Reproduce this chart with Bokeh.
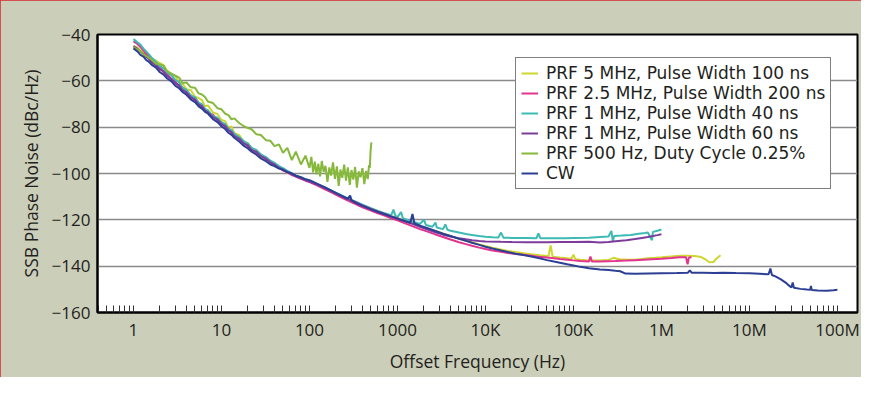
from bokeh.plotting import figure
from bokeh.models import Range1d, FixedTicker, CustomJSTickFormatter, Legend, LegendItem
from bokeh.embed import file_html
from bokeh.resources import INLINE

# ---------------- data (frequency Hz, SSB phase noise dBc/Hz) ----------------
SERIES_NAMES = [
    "PRF 5 MHz, Pulse Width 100 ns",
    "PRF 2.5 MHz, Pulse Width 200 ns",
    "PRF 1 MHz, Pulse Width 40 ns",
    "PRF 1 MHz, Pulse Width 60 ns",
    "PRF 500 Hz, Duty Cycle 0.25%",
    "CW",
]

PRF5M = [
    (1, -45), (1.1, -45.6), (1.2, -46.9), (1.3, -47.8), (1.4, -48.6), (1.5, -49.9), (1.6, -50.3), (1.8, -51.3),
    (2, -52.4), (2.2, -53.2), (2.4, -55.6), (2.7, -57.2), (3, -58.1), (3.3, -60.6), (3.6, -61.2), (4, -63.6),
    (4.5, -64.1), (5, -66.9), (5.5, -67.4), (6, -68.3), (6.5, -71), (7, -70.6), (8, -73.6), (9, -74.3),
    (10, -76.9), (11, -77.4), (12, -80.1), (13, -79.7), (14, -82.6), (16, -83.5), (18, -86.4), (20, -86.9),
    (22, -89.4), (25, -89.9), (28, -92.7), (32, -93.1), (36, -95.4), (40, -95.7), (45, -97.7), (50, -98.3),
    (56, -99.7), (63, -100.2), (70, -101.1), (80, -101.7), (90, -102.6), (100, -103),
    (120, -104.5), (150, -106.2), (180, -107.6), (220, -109.3), (270, -110.8), (330, -112.3), (400, -113.8),
    (500, -115.2), (600, -116.3), (700, -117.2), (850, -118.3), (1000, -119.2), (1200, -120.4), (1500, -121.6),
    (1800, -122.7), (2200, -123.8), (2700, -124.8), (3300, -125.9), (4000, -127), (5000, -128.2), (6000, -129),
    (7000, -129.7), (8500, -130.6), (10000, -131.3), (12000, -132), (15000, -132.8), (18000, -133.4),
    (22000, -133.9), (27000, -134.4), (33000, -134.8), (42000, -135.3), (52000, -135.7), (55000, -131),
    (58000, -135.9), (70000, -136.3), (95000, -136.8), (100000, -135), (105000, -137), (120000, -137.2),
    (150000, -137.5), (200000, -137.6), (250000, -137.3), (285000, -136.4), (330000, -137), (400000, -137.1),
    (500000, -137.2), (600000, -136.9), (700000, -136.6), (850000, -136.4), (1000000, -136.2),
    (1300000, -135.8), (1600000, -135.5), (2000000, -135.5), (2400000, -135.6), (2800000, -136),
    (3200000, -137.2), (3500000, -138.3), (3900000, -138.2), (4200000, -136.8), (4700000, -135.3),
]

PRF2M5 = [
    (1, -43), (1.1, -44), (1.2, -45.4), (1.3, -46.9), (1.4, -48.4), (1.5, -49.6), (1.6, -50.9), (1.8, -53.4),
    (2, -54.1), (2.2, -56.4), (2.4, -56.9), (2.7, -59.4), (3, -60.4), (3.3, -62.4), (3.6, -62.9), (4, -65.4),
    (4.5, -66.3), (5, -68.7), (5.5, -69.6), (6, -71.4), (6.5, -72.1), (7, -73.7), (8, -74.6), (9, -76.9),
    (10, -77.9), (11, -79.7), (12, -80.4), (13, -82.4), (14, -82.9), (16, -85.4), (18, -86.4), (20, -88.4),
    (22, -89.1), (25, -91.1), (28, -91.9), (32, -93.9), (36, -94.7), (40, -96.4), (45, -97.3), (50, -98.7),
    (56, -99.4), (63, -100.7), (70, -101.3), (80, -102.3), (90, -103.1), (100, -103.7),
    (120, -105), (150, -106.8), (180, -108.2), (220, -110), (270, -111.6), (330, -113.1), (400, -114.6),
    (500, -116), (600, -117.2), (700, -118.1), (850, -119.3), (1000, -120.2), (1200, -121.4), (1500, -122.8),
    (1800, -124), (2200, -125.1), (2700, -126.3), (3300, -127.4), (4000, -128.5), (5000, -129.7),
    (6000, -130.5), (7000, -131.2), (8500, -132), (10000, -132.6), (12000, -133.2), (15000, -133.8),
    (18000, -134.3), (22000, -134.7), (27000, -135.1), (33000, -135.5), (40000, -135.9), (50000, -136.3),
    (60000, -136.6), (70000, -136.9), (85000, -137.2), (100000, -137.5), (120000, -137.8), (150000, -138),
    (156000, -135.8), (162000, -138), (200000, -138), (300000, -137.8), (400000, -137.6), (500000, -137.4),
    (700000, -137.1), (1000000, -136.8), (1300000, -136.5), (1600000, -136.2), (1900000, -136.1),
    (1980000, -139.2), (2050000, -136.3), (2200000, -136.2),
]

PRF1M_40 = [
    (1, -42), (1.1, -43.3), (1.2, -44.4), (1.3, -46.1), (1.4, -47.4), (1.5, -48.6), (1.6, -49.9), (1.8, -51.9),
    (2, -53.7), (2.2, -54.6), (2.4, -56.4), (2.7, -57.6), (3, -59.7), (3.3, -60.6), (3.6, -62.9), (4, -63.9),
    (4.5, -66.4), (5, -67.1), (5.5, -69.4), (6, -70.1), (6.5, -72.2), (7, -72.7), (8, -75.2), (9, -75.9),
    (10, -77.9), (11, -78.6), (12, -80.7), (13, -81.3), (14, -82.9), (16, -84.4), (18, -86.1), (20, -87.1),
    (22, -88.9), (25, -89.9), (28, -91.7), (32, -92.9), (36, -94.5), (40, -95.4), (45, -96.8), (50, -97.7),
    (56, -98.9), (63, -99.9), (70, -100.8), (80, -101.7), (90, -102.5), (100, -103.1),
    (120, -104.5), (150, -106), (180, -107.5), (220, -109), (270, -110.6), (330, -112), (400, -113.5),
    (500, -115), (600, -116.2), (700, -117), (850, -118), (900, -115.6), (950, -118.3), (1000, -118.8),
    (1100, -116.6), (1150, -119.3), (1300, -120), (1500, -120.8), (1800, -121.8), (2000, -119.9),
    (2100, -122.2), (2500, -123), (2700, -121.2), (2800, -123.3), (3300, -124), (3500, -122), (3700, -124.3),
    (4000, -124.7), (5000, -125.5), (6000, -126.1), (7000, -126.5), (8500, -127), (10000, -127.3),
    (12000, -127.5), (14000, -127.6), (15000, -125.5), (16000, -127.7), (20000, -127.8), (30000, -127.8),
    (38000, -127.9), (40000, -125.8), (42000, -127.9), (60000, -128), (80000, -127.9), (100000, -127.8),
    (150000, -127.7), (200000, -127.4), (250000, -127.2), (270000, -124.8), (280000, -129.3),
    (290000, -127), (350000, -126.8), (450000, -126.5), (550000, -126), (650000, -125.7), (700000, -125.5),
    (780000, -128.8), (800000, -125.2), (900000, -124.7), (1000000, -124.2),
]

PRF1M_60 = [
    (1, -45), (1.1, -46.1), (1.2, -47.4), (1.3, -48.4), (1.4, -49.7), (1.5, -50.6), (1.6, -51.9), (1.8, -53.3),
    (2, -55.1), (2.2, -55.9), (2.4, -57.9), (2.7, -59.1), (3, -61.1), (3.3, -61.9), (3.6, -64.1), (4, -64.9),
    (4.5, -67.2), (5, -68), (5.5, -70.2), (6, -70.9), (6.5, -72.9), (7, -73.5), (8, -75.7), (9, -76.6),
    (10, -78.7), (11, -79.5), (12, -81.4), (13, -82.1), (14, -83.9), (16, -85.1), (18, -87.1), (20, -87.9),
    (22, -89.9), (25, -90.7), (28, -92.5), (32, -93.6), (36, -95.2), (40, -96.1), (45, -97.5), (50, -98.3),
    (56, -99.5), (63, -100.3), (70, -101.2), (80, -102.1), (90, -102.8), (100, -103.5),
    (120, -104.7), (150, -106.3), (180, -107.8), (220, -109.3), (270, -110.9), (330, -112.3), (400, -113.8),
    (500, -115.3), (600, -116.5), (700, -117.4), (850, -118.5), (1000, -119.4), (1200, -120.5),
    (1500, -121.8), (1800, -123), (2200, -124.2), (2700, -125.4), (3300, -126.4), (4000, -127.2),
    (5000, -127.9), (6000, -128.4), (7000, -128.8), (8500, -129.1), (10000, -129.3), (15000, -129.5),
    (20000, -129.6), (30000, -129.7), (50000, -129.7), (70000, -129.6), (100000, -129.6), (150000, -129.5),
    (200000, -129.8), (250000, -129.6), (300000, -129.2), (400000, -128.8), (500000, -128.3),
    (600000, -127.8), (700000, -127.4), (800000, -127), (900000, -126.6), (1000000, -126.2),
]

PRF500 = [
    (1, -45.5), (1.1, -46.4), (1.2, -47.3), (1.3, -48.7), (1.4, -49.3), (1.5, -50.1), (1.6, -50.8), (1.8, -52.6),
    (2, -52.9), (2.2, -53.5), (2.4, -55.8), (2.7, -56.9), (3, -57.8), (3.3, -58.6), (3.6, -60.9), (4, -60.7),
    (4.5, -62.8), (5, -63), (5.5, -65.4), (6, -65.9), (6.5, -67), (7, -68.9), (8, -69.6), (9, -71.8),
    (10, -72.3), (11, -74.2), (12, -74.8), (13, -76.6), (14, -76.2), (16, -78.3), (18, -79.6), (20, -80.4),
    (22, -80.9), (25, -83.1), (28, -83.4), (32, -85.6), (36, -85.9), (40, -88.2), (45, -87.4), (50, -91.1),
    (56, -88.9), (63, -94.2), (70, -90.6), (80, -96.1), (90, -92.3), (100, -97.6), (105, -92.8), (110, -99.5),
    (115, -94.9), (120, -100.4), (126, -95.8), (132, -101.2), (138, -94.6), (145, -99.3), (152, -96.7),
    (160, -103.6), (168, -97.4), (176, -100.9), (185, -95.2), (195, -102.3), (205, -96.9), (215, -105.4),
    (225, -98.3), (236, -101.9), (248, -96.2), (260, -103.1), (273, -97.4), (287, -104.9), (300, -98.5),
    (315, -102.6), (330, -97.2), (346, -106.1), (363, -99.1), (380, -101.6), (400, -97.7), (420, -104.6),
    (440, -98.9), (460, -102.4), (475, -96.4), (485, -97.6), (495, -90.2), (505, -86.6),
]

CW = [
    (1, -46), (1.1, -47.2), (1.2, -48.8), (1.3, -49.6), (1.4, -51.1), (1.5, -51.8), (1.6, -53), (1.8, -54.3),
    (2, -56.3), (2.2, -57.3), (2.4, -58.9), (2.7, -60.2), (3, -62.2), (3.3, -63.2), (3.6, -64.8), (4, -66),
    (4.5, -68.1), (5, -69.2), (5.5, -71), (6, -72), (6.5, -73.4), (7, -74.1), (8, -76.5), (9, -77.8),
    (10, -79.6), (11, -80.8), (12, -82.4), (13, -83.3), (14, -84.6), (16, -86.3), (18, -88.1), (20, -89.2),
    (22, -90.6), (25, -91.9), (28, -93.5), (32, -94.7), (36, -96.1), (40, -96.8), (45, -97.9), (50, -98.4),
    (56, -99.3), (63, -99.9), (70, -100.9), (80, -101.6), (90, -102.5), (100, -102.9),
    (120, -104.3), (150, -106), (180, -107.5), (220, -109.2), (270, -111), (290, -109.5), (300, -111.6),
    (330, -112.6), (400, -114), (500, -115.5), (600, -116.6), (700, -117.5), (850, -118.6), (1000, -119.5),
    (1200, -120.5), (1400, -121.3), (1480, -117.5), (1560, -121.6), (1800, -122.5), (2200, -123.6),
    (2700, -124.8), (3300, -126), (4000, -127), (5000, -128.2), (6000, -129.1), (7000, -129.9),
    (8500, -130.8), (10000, -131.6), (12000, -132.4), (15000, -133.2), (18000, -133.9), (22000, -134.6),
    (27000, -135.2), (33000, -135.8), (40000, -136.5), (50000, -137.4), (60000, -138), (70000, -138.5),
    (85000, -139.2), (100000, -139.7), (120000, -140.3), (150000, -140.9), (200000, -141.4),
    (250000, -141.7), (300000, -142), (340000, -142.2), (390000, -143.2), (500000, -143.3),
    (700000, -143.2), (1000000, -143.1), (1500000, -143), (2000000, -142.8), (2100000, -141.8),
    (2200000, -142.8), (3000000, -142.8), (4000000, -142.9), (5000000, -142.8), (7000000, -143),
    (10000000, -143.1), (13000000, -143.3), (16500000, -143.5), (17300000, -141), (18000000, -143.8),
    (20000000, -144.5), (23000000, -145.8), (26000000, -147.2), (28000000, -148.3), (30000000, -149.2),
    (31000000, -147), (32000000, -149.3), (38000000, -149.8), (45000000, -150.1), (49000000, -150.2),
    (50000000, -148.5), (51000000, -150.3), (60000000, -150.5), (75000000, -150.6), (90000000, -150.4),
    (100000000, -150.2),
]

SERIES_DATA = [PRF5M, PRF2M5, PRF1M_40, PRF1M_60, PRF500, CW]
SERIES_COLORS = ["#cfd62f", "#e2348f", "#3dbab4", "#7d3c9c", "#86b83c", "#2c3f94"]

X_TICKS = [1, 10, 100, 1000, 1e4, 1e5, 1e6, 1e7, 1e8]
X_TICK_LABELS = ["1", "10", "100", "1000", "10K", "100K", "1M", "10M", "100M"]
Y_TICKS = [-160, -140, -120, -100, -80, -60, -40]

FONT = "Open Sans"
LEGEND_FONT = "DejaVu Sans"
TEXT = "#231f20"

p = figure(
    width=861, height=377,
    x_axis_type="log",
    x_range=Range1d(0.39, 1.69e8), y_range=Range1d(-160, -40),
    output_backend="svg", toolbar_location=None,
    min_border_left=97, min_border_right=4, min_border_top=34, min_border_bottom=65,
    background_fill_color="white", border_fill_color="#cbceb9",
)
p.styles = {"outline": "2px solid #d9262e", "outline-offset": "-2px"}

p.outline_line_color = "black"
p.outline_line_width = 2
p.outline_line_alpha = 1

# grid
p.xgrid.visible = False
p.ygrid.ticker = FixedTicker(ticks=Y_TICKS[1:-1])
p.ygrid.grid_line_color = "#8a8a8a"
p.ygrid.grid_line_width = 1.5

# x axis
p.xaxis.ticker = FixedTicker(ticks=X_TICKS,
                             minor_ticks=[m * 10.0 ** d for d in range(-1, 9) for m in range(2, 10)])
p.xaxis.major_label_overrides = {t: l for t, l in zip(X_TICKS, X_TICK_LABELS)}
p.xaxis.major_tick_in = 7
p.xaxis.major_tick_out = 0
p.xaxis.minor_tick_in = 7
p.xaxis.minor_tick_out = 0
p.xaxis.major_tick_line_color = "#333333"
p.xaxis.minor_tick_line_color = "#333333"
p.xaxis.axis_line_color = "black"
p.xaxis.axis_line_width = 2
p.xaxis.axis_label = "Offset Frequency (Hz)"
p.xaxis.major_label_standoff = 5
p.xaxis.axis_label_standoff = 5

# y axis
p.yaxis.ticker = FixedTicker(ticks=Y_TICKS)
p.yaxis.formatter = CustomJSTickFormatter(code="return tick < 0 ? '\u2212' + Math.abs(tick) : String(tick);")
p.yaxis.major_tick_line_color = None
p.yaxis.minor_tick_line_color = None
p.yaxis.major_tick_in = 0
p.yaxis.major_tick_out = 0
p.yaxis.minor_tick_in = 0
p.yaxis.minor_tick_out = 0
p.yaxis.axis_line_color = "black"
p.yaxis.axis_line_width = 2
p.yaxis.axis_label = "SSB Phase Noise (dBc/Hz)"
p.yaxis.major_label_standoff = 7
p.yaxis.axis_label_standoff = 6

for ax in (p.xaxis, p.yaxis):
    ax.major_label_text_font = FONT
    ax.major_label_text_font_size = "17px"
    ax.major_label_text_color = TEXT
    ax.axis_label_text_font = FONT
    ax.axis_label_text_font_size = "17.5px"
    ax.axis_label_text_font_style = "normal"
    ax.axis_label_text_color = TEXT

items = []
for name, data, color in zip(SERIES_NAMES, SERIES_DATA, SERIES_COLORS):
    xs = [d[0] for d in data]
    ys = [d[1] for d in data]
    r = p.line(xs, ys, line_color=color, line_width=2)
    items.append(LegendItem(label=name, renderers=[r]))

legend = Legend(
    items=items, location=(418, 123),
    border_line_color="black", border_line_width=1.5,
    background_fill_color="white", background_fill_alpha=1,
    padding=5, spacing=0, margin=0,
    label_height=20, glyph_height=20, glyph_width=17, label_standoff=8,
    label_text_font=LEGEND_FONT, label_text_font_size="17px", label_text_color=TEXT,
)
p.add_layout(legend)

open("out.html", "w").write(file_html(p, INLINE))
